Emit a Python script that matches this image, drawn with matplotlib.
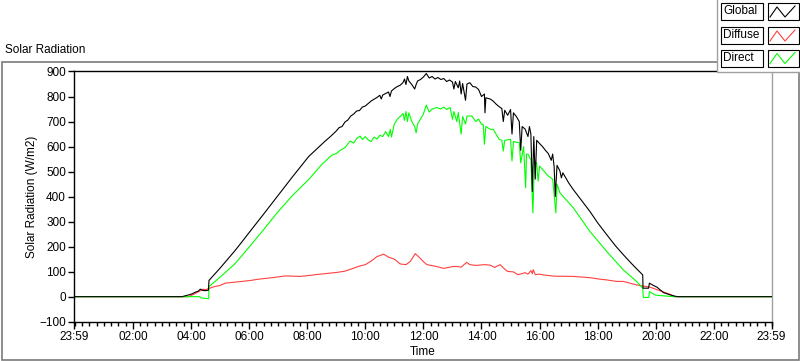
import matplotlib
matplotlib.use("Agg")
import matplotlib.pyplot as plt
from matplotlib.patches import Rectangle
from matplotlib.lines import Line2D
import numpy as np

plt.rcParams['font.family'] = ['Liberation Sans', 'DejaVu Sans']

# time in hours since midnight (23:59 of previous day = -1/60)
T0 = -1 / 60
T1 = 23 + 59 / 60

global_t = [T0, 3.70, 3.75, 3.85, 3.95, 4.05, 4.15, 4.25, 4.32, 4.40, 4.50, 4.60, 4.62,
            4.80, 5.00, 5.25, 5.50, 5.76, 6.00, 6.50, 7.00, 7.50, 8.05, 8.40, 8.62, 8.8,
            9.0, 9.1, 9.2, 9.3, 9.4, 9.5, 9.6, 9.7, 9.8, 9.9, 10.0, 10.1, 10.2, 10.3,
            10.4, 10.5, 10.55, 10.6, 10.7, 10.8, 10.85, 10.9, 11.0, 11.1, 11.2, 11.3,
            11.35, 11.4, 11.45, 11.5, 11.6, 11.7, 11.75, 11.8, 11.9, 12.0, 12.1, 12.2,
            12.3, 12.4, 12.5, 12.6, 12.7, 12.8, 12.9, 13.0, 13.05, 13.1, 13.2, 13.25,
            13.3, 13.35, 13.45, 13.5, 13.6, 13.7, 13.8, 13.9, 14.0, 14.1, 14.12, 14.15,
            14.3, 14.4, 14.5, 14.6, 14.7, 14.75, 14.8, 14.9, 15.0, 15.05, 15.1, 15.2,
            15.3, 15.35, 15.4, 15.5, 15.6, 15.65, 15.7, 15.75, 15.8, 15.85, 15.9, 16.0,
            16.1, 16.2, 16.3, 16.4, 16.45, 16.5, 16.54, 16.6, 16.7, 16.75, 16.8, 17.0,
            17.16, 17.45, 17.73, 18.0, 18.31, 18.6, 18.88, 19.2, 19.55, 19.56, 19.75,
            19.78, 19.9, 20.04, 20.27, 20.5, 20.66, 20.75, T1]
global_v = [0, 0, 2, 5, 8, 12, 18, 22, 30, 25, 24, 26, 65,
            88, 114, 148, 182, 220, 256, 330, 405, 480, 560, 598, 622, 640,
            662, 676, 680, 698, 706, 722, 730, 742, 744, 758, 762, 772, 782, 789,
            796, 805, 790, 806, 812, 818, 800, 822, 832, 840, 845, 856,
            870, 848, 880, 862, 848, 830, 848, 862, 868, 878, 892, 874,
            880, 870, 876, 868, 872, 860, 866, 858, 830, 860, 835, 862,
            810, 852, 785, 850, 855, 840, 838, 828, 800, 810, 735, 795,
            790, 782, 770, 760, 752, 700, 745, 725, 748, 650, 735, 720,
            700, 585, 680, 670, 640, 680, 650, 420, 640, 470, 625, 612,
            600, 585, 572, 545, 570, 520, 400, 525, 502, 475, 495, 455,
            428, 384, 341, 295, 248, 205, 168, 128, 87, 34, 34,
            54, 46, 38, 16, 7, 2, 0, 0]

diffuse_t = [T0, 3.90, 4.0, 4.1, 4.2, 4.3, 4.4, 4.5, 4.6, 4.8, 5.0, 5.18, 5.5, 6.0,
             6.33, 6.8, 7.25, 7.76, 8.0, 8.45, 9.02, 9.3, 9.5, 9.82, 10.0, 10.2, 10.4,
             10.63, 10.8, 11.0, 11.2, 11.4, 11.55, 11.72, 11.85, 12.0, 12.12, 12.4,
             12.57, 12.7, 13.0, 13.14, 13.3, 13.49, 13.6, 13.8, 14.1, 14.3, 14.45,
             14.64, 14.8, 14.9, 15.1, 15.25, 15.4, 15.5, 15.6, 15.7, 15.75, 15.78,
             15.85, 16.0, 16.13, 16.5, 17.16, 17.73, 18.08, 18.31, 18.65, 18.88,
             19.34, 19.8, 20.14, 20.48, 20.66, T1]
diffuse_v = [0, 0, 4, 10, 16, 22, 30, 28, 32, 40, 45, 54, 58, 64,
             70, 76, 83, 81, 84, 90, 97, 102, 110, 123, 128, 142, 160,
             170, 158, 150, 131, 128, 141, 172, 158, 140, 128, 122,
             117, 113, 120, 121, 118, 137, 128, 125, 128, 126, 117,
             128, 110, 101, 99, 88, 92, 96, 90, 104, 92, 108,
             88, 90, 87, 82, 81, 76, 70, 67, 61, 61,
             47, 38, 24, 10, 0, 0]

direct_t = [T0, 4.30, 4.35, 4.61, 4.62, 5.0, 5.5, 5.76, 6.0, 6.5, 7.0, 7.5, 8.05, 8.5,
            8.7, 8.85, 9.0, 9.14, 9.3, 9.48, 9.6, 9.7, 9.82, 9.9, 10.0, 10.1, 10.2, 10.3,
            10.4, 10.5, 10.6, 10.7, 10.8, 10.86, 10.9, 11.0, 11.1, 11.2, 11.3, 11.35,
            11.4, 11.45, 11.5, 11.6, 11.7, 11.75, 11.8, 11.9, 12.0, 12.1, 12.2, 12.3,
            12.46, 12.6, 12.7, 12.8, 12.92, 13.0, 13.05, 13.15, 13.2, 13.3, 13.35, 13.45,
            13.5, 13.67, 13.8, 13.9, 14.0, 14.06, 14.1, 14.15, 14.3, 14.41, 14.5, 14.61,
            14.7, 14.75, 14.8, 15.0, 15.05, 15.1, 15.3, 15.35, 15.45, 15.52, 15.55, 15.61,
            15.7, 15.77, 15.82, 15.9, 15.95, 16.0, 16.2, 16.3, 16.45, 16.56, 16.6, 16.7,
            17.16, 17.73, 18.31, 18.88, 19.34, 19.55, 19.57, 19.76, 19.78, 19.9, 20.0,
            20.3, 20.66, T1]
direct_v = [0, 0, -5, -8, 40, 78, 130, 165, 198, 268, 340, 405, 468, 528,
            550, 566, 572, 585, 596, 622, 614, 632, 642, 628, 640, 626, 620, 638,
            630, 645, 640, 660, 640, 669, 638, 690, 709, 720, 732, 705,
            740, 700, 735, 700, 680, 655, 690, 710, 730, 766, 738, 750,
            756, 750, 758, 748, 756, 709, 740, 700, 736, 650, 720, 690,
            722, 722, 700, 710, 689, 689, 609, 680, 669, 669, 650, 629,
            625, 582, 625, 629, 542, 620, 615, 535, 600, 435, 570, 569,
            545, 335, 540, 535, 462, 522, 495, 482, 470, 335, 450, 415,
            355, 261, 181, 107, 61, 34, -3, -3, 20, 12, 6,
            3, 0, 0]

series_names = ["Global", "Diffuse", "Direct"]
series_colors = ["#000000", "#FF4040", "#00FF00"]

major_hours = [T0, 2, 4, 6, 8, 10, 12, 14, 16, 18, 20, 22, T1]
major_labels = ["23:59", "02:00", "04:00", "06:00", "08:00", "10:00", "12:00",
                "14:00", "16:00", "18:00", "20:00", "22:00", "23:59"]
y_ticks = [-100, 0, 100, 200, 300, 400, 500, 600, 700, 800, 900]

W, H = 800, 361
fig = plt.figure(figsize=(W / 100, H / 100), dpi=100)

def fx(px):
    return px / W

def fy(py):
    return 1 - py / H

# outer panel frame
fig.patches.append(Rectangle((fx(1.5), fy(359.5)), fx(797.5), fy(61.5) - fy(359.5),
                             transform=fig.transFigure, fill=False,
                             edgecolor="#7a7a7a", lw=1.2, zorder=0))
fig.text(fx(5), fy(50), "Solar Radiation", fontsize=8.5, va="center", ha="left")

left, right, top, bottom = 74.3, 772, 71.5, 321.7
ax = fig.add_axes([fx(left), fy(bottom), fx(right - left), fy(top) - fy(bottom)])

for t, v, c in zip([global_t, diffuse_t, direct_t],
                   [global_v, diffuse_v, direct_v], series_colors):
    ax.plot(t, v, color=c, lw=0.8)
# draw global on top
ax.lines[0].set_zorder(3)

ax.set_xlim(T0, T1)
ax.set_ylim(-100, 900)
ax.set_xticks(major_hours)
ax.set_xticklabels(major_labels)
ax.set_xticks(np.arange(0, 24.01, 0.25), minor=True)
ax.set_yticks(y_ticks)
ax.tick_params(axis="both", which="major", labelsize=8.5, direction="out", width=1, pad=2)
ax.tick_params(axis="x", which="major", length=5)
ax.tick_params(axis="y", which="major", length=4)
ax.tick_params(axis="x", which="minor", length=3, width=1)
ax.set_xlabel("Time", fontsize=8.5, labelpad=2)
ax.set_ylabel("Solar Radiation (W/m2)", fontsize=8.5, labelpad=1)
for s in ["left", "top", "bottom"]:
    ax.spines[s].set_color("black")
    ax.spines[s].set_linewidth(1)
ax.spines["right"].set_color("#a0a0a0")
ax.spines["right"].set_linewidth(1)

# legend block in the top right
fig.patches.append(Rectangle((fx(717), fy(72)), fx(90), fy(-5) - fy(72),
                             transform=fig.transFigure, facecolor="white",
                             edgecolor="#a0a0a0", lw=1, zorder=5))
row_tops = [3, 27, 49.5]
for name, c, rt in zip(series_names, series_colors, row_tops):
    rb = rt + 17
    fig.patches.append(Rectangle((fx(721), fy(rb)), fx(42), fy(rt) - fy(rb),
                                 transform=fig.transFigure, facecolor="white",
                                 edgecolor="black", lw=0.8, zorder=6))
    fig.patches.append(Rectangle((fx(768), fy(rb)), fx(31), fy(rt) - fy(rb),
                                 transform=fig.transFigure, facecolor="white",
                                 edgecolor="black", lw=0.8, zorder=6))
    fig.text(fx(723.5), fy((rt + rb) / 2), name, fontsize=8.5, va="center",
             ha="left", zorder=7)
    zx = [770, 777, 785, 795]
    zy = [rb - 3, rt + 4, rb - 3, rt + 3]
    fig.lines.append(Line2D([fx(x) for x in zx], [fy(y) for y in zy],
                            transform=fig.transFigure, color=c, lw=0.8, zorder=7))

fig.savefig("out.png", dpi=100)
